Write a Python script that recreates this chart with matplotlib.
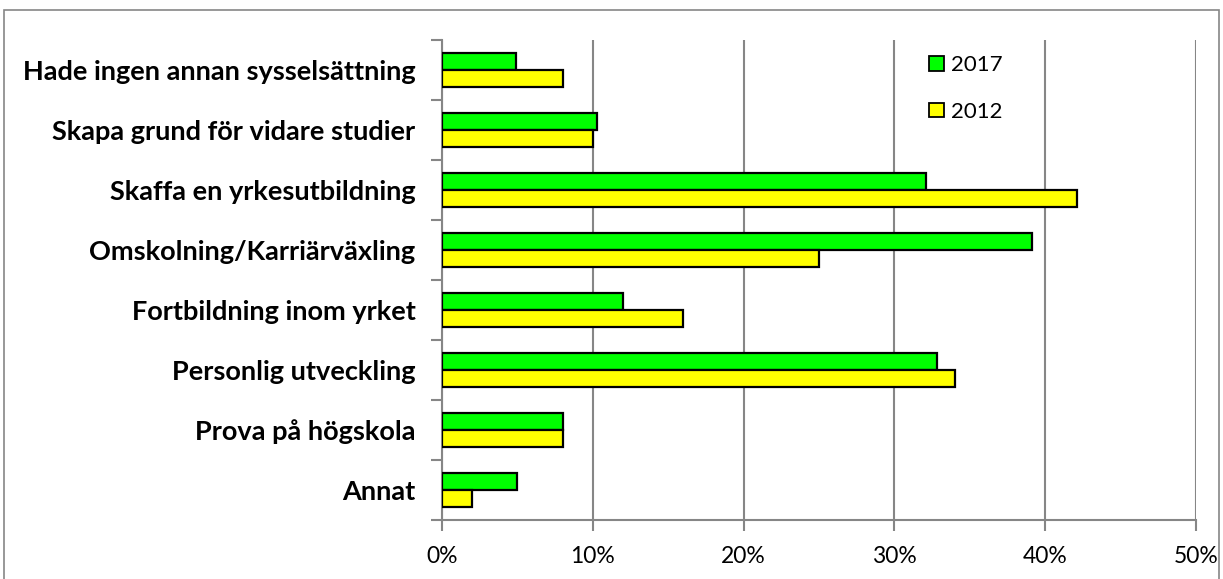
import matplotlib
matplotlib.use("Agg")
import matplotlib.pyplot as plt
from matplotlib.patches import Rectangle
from matplotlib.ticker import FuncFormatter
import numpy as np

categories = ["Hade ingen annan sysselsättning", "Skapa grund för vidare studier",
              "Skaffa en yrkesutbildning", "Omskolning/Karriärväxling",
              "Fortbildning inom yrket", "Personlig utveckling",
              "Prova på högskola", "Annat"]
v2017 = [4.9, 10.3, 32.1, 39.1, 12.0, 32.8, 8.0, 5.0]
v2012 = [8.0, 10.0, 42.1, 25.0, 16.0, 34.0, 8.0, 2.0]
xticks = [0, 10, 20, 30, 40, 50]

plt.rcParams['font.family'] = ['Lato', 'DejaVu Sans']

W, H = 1223, 579
fig = plt.figure(figsize=(W/100, H/100), dpi=100)
ax = fig.add_axes([442/W, 1-520/H, (1196-442)/W, 480/H])

y = np.arange(len(categories))
bh = 0.285
ax.barh(y - bh/2, v2017, height=bh, color="#00FF00", edgecolor="black", linewidth=1.6, label="2017", zorder=3)
ax.barh(y + bh/2, v2012, height=bh, color="#FFFF00", edgecolor="black", linewidth=1.6, label="2012", zorder=3)

ax.set_ylim(len(categories) - 0.5, -0.5)
ax.set_xlim(0, 50)
ax.set_xticks(xticks)
ax.xaxis.set_major_formatter(FuncFormatter(lambda v, p: f"{int(v)}%"))
ax.set_yticks(y)
ax.set_yticklabels(categories, fontsize=19.5, fontweight="bold")
ax.set_yticks(np.arange(len(categories) + 1) - 0.5, minor=True)
ax.tick_params(axis="y", which="major", length=0, pad=19)
ax.tick_params(axis="y", which="minor", length=8, color="#868686", width=1.5)
ax.tick_params(axis="x", length=8, color="#868686", width=1.5, labelsize=16.5, pad=11)

ax.grid(axis="x", color="#868686", linewidth=1.5, zorder=0)
for s in ["top", "right"]:
    ax.spines[s].set_visible(False)
for s in ["left", "bottom"]:
    ax.spines[s].set_color("#868686")
    ax.spines[s].set_linewidth(1.5)

leg = ax.legend(loc="upper left", bbox_to_anchor=(0.62, 1.01), frameon=False,
                fontsize=16, handlelength=0.65, handleheight=0.65, handletextpad=0.3,
                labelspacing=1.2)
for h in leg.legend_handles:
    h.set_linewidth(1.3)

fig.patches.append(Rectangle((4/W, -0.01), (1219-4)/W, 1 - 10/H + 0.01,
                             transform=fig.transFigure, fill=False,
                             edgecolor="#868686", linewidth=1.2))

fig.savefig("out.png", dpi=100)
